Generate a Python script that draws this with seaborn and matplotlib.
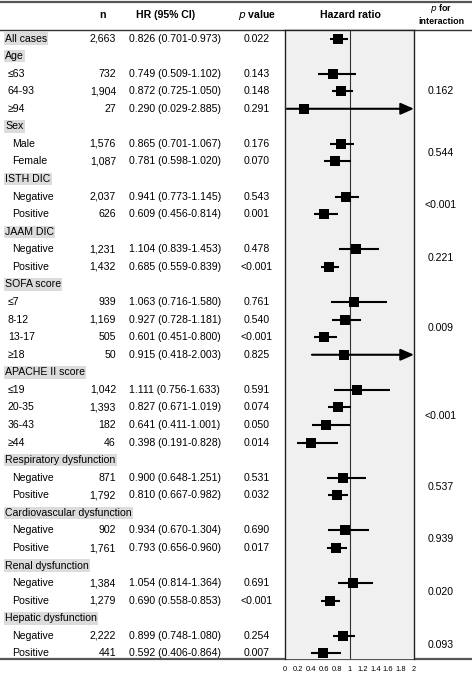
import numpy as np
import pandas as pd
import seaborn as sns
import matplotlib.pyplot as plt

plt.rcParams['font.family'] = ['Liberation Sans', 'DejaVu Sans']

# table rows, top to bottom
labels = ["All cases", "Age", "≤63", "64-93", "≥94", "Sex", "Male", "Female",
          "ISTH DIC", "Negative", "Positive", "JAAM DIC", "Negative", "Positive",
          "SOFA score", "≤7", "8-12", "13-17", "≥18",
          "APACHE II score", "≤19", "20-35", "36-43", "≥44",
          "Respiratory dysfunction", "Negative", "Positive",
          "Cardiovascular dysfunction", "Negative", "Positive",
          "Renal dysfunction", "Negative", "Positive",
          "Hepatic dysfunction", "Negative", "Positive"]
is_group = [1, 1, 0, 0, 0, 1, 0, 0, 1, 0, 0, 1, 0, 0, 1, 0, 0, 0, 0,
            1, 0, 0, 0, 0, 1, 0, 0, 1, 0, 0, 1, 0, 0, 1, 0, 0]
n_vals = ["2,663", "", "732", "1,904", "27", "", "1,576", "1,087", "", "2,037", "626",
          "", "1,231", "1,432", "", "939", "1,169", "505", "50",
          "", "1,042", "1,393", "182", "46", "", "871", "1,792", "", "902", "1,761",
          "", "1,384", "1,279", "", "2,222", "441"]
hr = [0.826, None, 0.749, 0.872, 0.290, None, 0.865, 0.781, None, 0.941, 0.609,
      None, 1.104, 0.685, None, 1.063, 0.927, 0.601, 0.915,
      None, 1.111, 0.827, 0.641, 0.398, None, 0.900, 0.810, None, 0.934, 0.793,
      None, 1.054, 0.690, None, 0.899, 0.592]
lo = [0.701, None, 0.509, 0.725, 0.029, None, 0.701, 0.598, None, 0.773, 0.456,
      None, 0.839, 0.559, None, 0.716, 0.728, 0.451, 0.418,
      None, 0.756, 0.671, 0.411, 0.191, None, 0.648, 0.667, None, 0.670, 0.656,
      None, 0.814, 0.558, None, 0.748, 0.406]
hi = [0.973, None, 1.102, 1.050, 2.885, None, 1.067, 1.020, None, 1.145, 0.814,
      None, 1.453, 0.839, None, 1.580, 1.181, 0.800, 2.003,
      None, 1.633, 1.019, 1.001, 0.828, None, 1.251, 0.982, None, 1.304, 0.960,
      None, 1.364, 0.853, None, 1.080, 0.864]
p_vals = ["0.022", "", "0.143", "0.148", "0.291", "", "0.176", "0.070", "", "0.543", "0.001",
          "", "0.478", "<0.001", "", "0.761", "0.540", "<0.001", "0.825",
          "", "0.591", "0.074", "0.050", "0.014", "", "0.531", "0.032", "", "0.690", "0.017",
          "", "0.691", "<0.001", "", "0.254", "0.007"]
# p for interaction: (first row, last row, value)
p_inter = [(2, 4, "0.162"), (6, 7, "0.544"), (9, 10, "<0.001"), (12, 13, "0.221"),
           (15, 18, "0.009"), (20, 23, "<0.001"), (25, 26, "0.537"), (28, 29, "0.939"),
           (31, 32, "0.020"), (34, 35, "0.093")]
ticks = [0, 0.2, 0.4, 0.6, 0.8, 1, 1.2, 1.4, 1.6, 1.8, 2]

W, H = 472, 674
fig = plt.figure(figsize=(W / 100, H / 100), dpi=100)

# full-figure axes in pixel units for the table text
tab = fig.add_axes([0, 0, 1, 1])
tab.set_xlim(0, W)
tab.set_ylim(H, 0)
tab.axis('off')

y0, dy = 38.5, 17.57
fs = 7.6

def row_y(i):
    return y0 + i * dy

tab.plot([0, W], [2, 2], color='#555555', lw=1.6)
tab.plot([0, W], [30, 30], color='#333333', lw=1.0)
tab.plot([0, W], [659, 659], color='#555555', lw=1.6)

hdr_y = 15.5
tab.text(103, hdr_y, "n", ha='center', va='center', fontsize=fs, fontweight='bold')
tab.text(166, hdr_y, "HR (95% CI)", ha='center', va='center', fontsize=fs, fontweight='bold')
tab.text(257, hdr_y, r"$\bf{\it{p}}$ value", ha='center', va='center', fontsize=fs, fontweight='bold')
tab.text(350, hdr_y, "Hazard ratio", ha='center', va='center', fontsize=fs, fontweight='bold')
tab.text(441, 8.5, r"$\bf{\it{p}}$ for", ha='center', va='center', fontsize=6.4, fontweight='bold')
tab.text(441, 22, "interaction", ha='center', va='center', fontsize=6.4, fontweight='bold')

for i, lab in enumerate(labels):
    y = row_y(i)
    if is_group[i]:
        tab.text(5, y, lab, ha='left', va='center', fontsize=fs,
                 bbox=dict(boxstyle='square,pad=0.12', fc='#dcdcdc', ec='none'))
    else:
        indent = 12 if lab[0].isalpha() else 8
        tab.text(indent, y, lab, ha='left', va='center', fontsize=fs)
    if n_vals[i]:
        tab.text(116, y, n_vals[i], ha='right', va='center', fontsize=fs)
    if hr[i] is not None:
        tab.text(129, y, f"{hr[i]:.3f} ({lo[i]:.3f}-{hi[i]:.3f})",
                 ha='left', va='center', fontsize=fs)
    if p_vals[i]:
        tab.text(257, y, p_vals[i], ha='center', va='center', fontsize=fs)

for a, b, v in p_inter:
    tab.text(441, (row_y(a) + row_y(b)) / 2, v, ha='center', va='center', fontsize=fs)

# forest panel
px0, px1, py0, py1 = 285, 414, 30, 659
fax = fig.add_axes([px0 / W, (H - py1) / H, (px1 - px0) / W, (py1 - py0) / H])
fax.set_facecolor('#f0f0f0')
fax.set_xlim(0, 2)
fax.set_ylim((py1 - y0) / dy, (py0 - y0) / dy)
for s in fax.spines.values():
    s.set_color('#222222')
    s.set_linewidth(1.0)
fax.spines['bottom'].set_visible(False)
fax.axvline(1, color='#333333', lw=0.8)

df = pd.DataFrame({'row': np.arange(len(labels)), 'hr': hr, 'lo': lo, 'hi': hi}).dropna()
df = df.astype({'hr': float, 'lo': float, 'hi': float})
inside = df[df['hi'] <= 2]
outside = df[df['hi'] > 2]
fax.hlines(inside['row'], inside['lo'], inside['hi'], color='black', lw=1.5)
for _, r in outside.iterrows():
    fax.annotate('', xy=(2.0, r['row']), xytext=(r['lo'], r['row']),
                 arrowprops=dict(arrowstyle='-|>,head_length=0.8,head_width=0.35',
                                 color='black', lw=1.5, shrinkA=0, shrinkB=0),
                 annotation_clip=False)
sns.scatterplot(data=df, x='hr', y='row', marker='s', color='black', s=48,
                edgecolor='black', linewidth=0, ax=fax, zorder=3, legend=False)

fax.set_xticks(ticks)
fax.set_xticklabels([f"{t:g}" for t in ticks], fontsize=5.4)
fax.tick_params(axis='x', length=0, pad=5)
fax.set_yticks([])
fax.set_xlabel('')
fax.set_ylabel('')

fig.savefig('out.png', dpi=100)
